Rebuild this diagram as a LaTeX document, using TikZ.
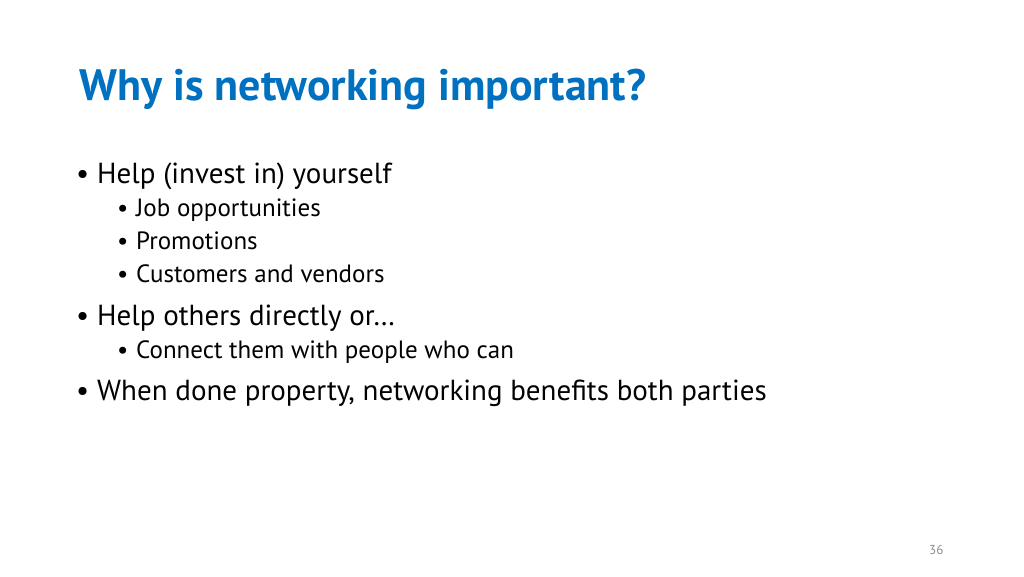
\documentclass[tikz,border=0pt]{standalone}
\usepackage{fontspec}
\setmainfont{PT Sans}
\definecolor{titleblue}{HTML}{0070C0}
\definecolor{pg}{HTML}{8C8C8C}
\begin{document}
\begin{tikzpicture}[x=1pt,y=-1pt,
  lone/.style={anchor=base west,inner sep=0pt,font=\fontsize{29}{32}\selectfont},
  ltwo/.style={anchor=base west,inner sep=0pt,font=\fontsize{25}{28}\selectfont}]
\useasboundingbox[fill=white] (0,0) rectangle (1024,576);
\node[anchor=base west,inner sep=0pt,text=titleblue,font=\fontsize{44}{50}\selectfont\bfseries] (title) at (79,100) {Why is networking important?};
\node[lone] (b1) at (76,183) {•};
\node[lone] (t1) at (97,183) {Help (invest in) yourself};
\node[ltwo] (b2) at (117,216) {•};
\node[ltwo] (t2) at (136,216) {Job opportunities};
\node[ltwo] (b3) at (117,249) {•};
\node[ltwo] (t3) at (136,249) {Promotions};
\node[ltwo] (b4) at (117,282) {•};
\node[ltwo] (t4) at (136,282) {Customers and vendors};
\node[lone] (b5) at (76,325) {•};
\node[lone] (t5) at (97,325) {Help others directly or…};
\node[ltwo] (b6) at (117,358) {•};
\node[ltwo] (t6) at (136,358) {Connect them with people who can};
\node[lone] (b7) at (76,400) {•};
\node[lone] (t7) at (97,400) {When done property, networking benefits both parties};
\node[anchor=base west,inner sep=0pt,text=pg,font=\fontsize{13}{15}\selectfont] (pn) at (929,554) {36};
\end{tikzpicture}
\end{document}
